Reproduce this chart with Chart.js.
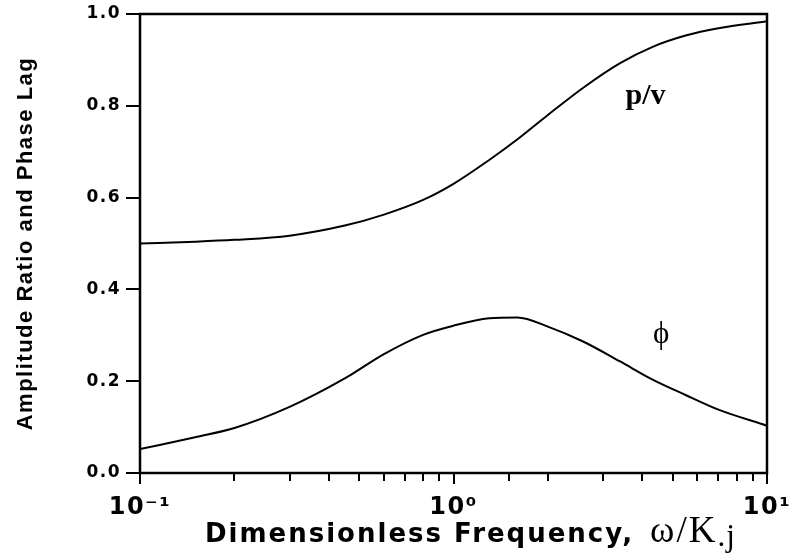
<!DOCTYPE html>
<html>
<head>
<meta charset="utf-8">
<script src="https://cdn.jsdelivr.net/npm/chart.js@4"></script>
<style>
  html, body { margin: 0; padding: 0; background: #fff; }
  #wrap { width: 790px; height: 560px; }
</style>
</head>
<body>
<div id="wrap"><canvas id="chart"></canvas></div>
<script>
// dimensionless frequency, omega/K.j (log axis)
const freq = [0.1, 0.15, 0.2, 0.3, 0.45, 0.6, 0.8, 1.0, 1.3, 1.6, 2.0, 2.6, 3.4, 4.3, 5.5, 7.0, 10];
// amplitude ratio p/v
const ampRatio = [0.500, 0.504, 0.508, 0.517, 0.539, 0.563, 0.595, 0.630, 0.682, 0.727, 0.780, 0.840, 0.893, 0.928, 0.953, 0.969, 0.984];
// phase lag phi
const phaseLag = [0.052, 0.078, 0.098, 0.144, 0.206, 0.259, 0.301, 0.321, 0.337, 0.339, 0.319, 0.286, 0.243, 0.204, 0.170, 0.138, 0.103];

const decadeLabels = { '-1': '10⁻¹', '0': '10⁰', '1': '10¹' };
// curve names, placed in data coordinates
const curveNames = [
  { text: 'p/v', x: 4.1, y: 0.82, font: 'bold 30px "Liberation Serif"' },
  { text: 'ϕ', x: 4.6, y: 0.30, font: '31px "Liberation Serif"' }
];

const toPoints = ys => freq.map((f, i) => ({ x: f, y: ys[i] }));
const isDecade = v => { const e = Math.log10(v); return Math.abs(e - Math.round(e)) < 1e-6; };

// box, tick marks, curve names and the mixed-font x title
const extras = {
  id: 'extras',
  beforeDraw(chart) {
    chart.ctx.letterSpacing = '1.5px';
  },
  afterDraw(chart) {
    const { ctx, chartArea: a, scales } = chart;
    ctx.save();
    ctx.strokeStyle = '#000';
    ctx.lineWidth = 2;
    ctx.beginPath();
    scales.x.ticks.forEach(t => {
      const px = Math.round(scales.x.getPixelForValue(t.value));
      ctx.moveTo(px, a.bottom);
      ctx.lineTo(px, a.bottom + (isDecade(t.value) ? 11 : 8));
    });
    scales.y.ticks.forEach(t => {
      const py = Math.round(scales.y.getPixelForValue(t.value));
      ctx.moveTo(a.left, py);
      ctx.lineTo(a.left - 14, py);
    });
    ctx.stroke();

    ctx.lineWidth = 2.5;
    ctx.strokeRect(a.left, a.top, a.right - a.left, a.bottom - a.top);

    ctx.fillStyle = '#000';
    ctx.textAlign = 'center';
    ctx.textBaseline = 'middle';
    ctx.letterSpacing = '0px';
    curveNames.forEach(n => {
      ctx.font = n.font;
      ctx.fillText(n.text, scales.x.getPixelForValue(n.x), scales.y.getPixelForValue(n.y));
    });

    // x axis title
    ctx.textAlign = 'left';
    ctx.textBaseline = 'alphabetic';
    ctx.letterSpacing = '2px';
    ctx.font = 'bold 26px "DejaVu Sans"';
    const part1 = 'Dimensionless Frequency,';
    let x = 205, y = 542;
    ctx.fillText(part1, x, y);
    x += ctx.measureText(part1).width + 16;
    ctx.font = '37px "Liberation Serif"';
    ctx.fillText('ω/K', x, y);
    x += ctx.measureText('ω/K').width;
    ctx.letterSpacing = '1px';
    ctx.font = '31px "Liberation Serif"';
    ctx.fillText('.j', x, y + 4);
    ctx.restore();
  }
};

const config = {
  type: 'line',
  data: {
    datasets: [
      { label: 'p/v', data: toPoints(ampRatio) },
      { label: 'phi', data: toPoints(phaseLag) }
    ]
  },
  options: {
    responsive: true,
    maintainAspectRatio: false,
    animation: false,
    layout: { padding: { top: 14, right: 23, left: 0, bottom: 0 } },
    elements: {
      line: { borderColor: '#000', borderWidth: 2, tension: 0.4, cubicInterpolationMode: 'monotone', fill: false },
      point: { radius: 0 }
    },
    plugins: {
      legend: { display: false },
      tooltip: { enabled: false }
    },
    scales: {
      x: {
        type: 'logarithmic',
        min: 0.1,
        max: 10,
        afterFit(s) { s.height = 87; s.paddingLeft = 0; s.paddingRight = 0; },
        border: { display: false },
        grid: { display: false },
        ticks: {
          autoSkip: false,
          maxRotation: 0,
          padding: 12,
          color: '#000',
          font: { family: 'DejaVu Sans', weight: 'bold', size: 24 },
          callback: v => isDecade(v) ? decadeLabels[Math.round(Math.log10(v))] : ''
        }
      },
      y: {
        min: 0,
        max: 1,
        afterFit(s) { s.width = 140; s.paddingTop = 0; s.paddingBottom = 0; },
        border: { display: false },
        grid: { display: false },
        ticks: {
          stepSize: 0.2,
          padding: 11,
          color: '#000',
          font: { family: 'DejaVu Sans', weight: 'bold', size: 17 },
          callback: v => v.toFixed(1)
        },
        title: {
          display: true,
          text: 'Amplitude Ratio and Phase Lag',
          color: '#000',
          font: { family: 'Liberation Sans', weight: 'bold', size: 22 },
          padding: { top: 13, bottom: 0 }
        }
      }
    }
  },
  plugins: [extras]
};

const chart = new Chart(document.getElementById('chart'), config);
</script>
</body>
</html>
